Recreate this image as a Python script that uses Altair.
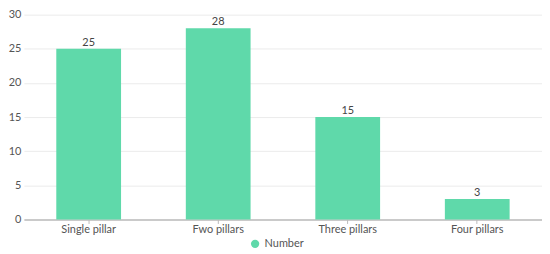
import altair as alt
import pandas as pd

categories = ["Single pillar", "Fwo pillars", "Three pillars", "Four pillars"]
values = [25, 28, 15, 3]
series = ["Number"] * 4

df = pd.DataFrame({"category": categories, "value": values, "series": series})

font = "Lato"
base = alt.Chart(df).encode(
    x=alt.X("category:N", sort=categories, title=None,
            scale=alt.Scale(paddingInner=0.5, paddingOuter=0.25),
            axis=alt.Axis(labelAngle=0, labelFontSize=11, labelColor="#555", labelFont=font,
                          domainColor="#bbb", domainWidth=1.5, tickColor="#bbb", tickSize=4,
                          labelPadding=0)),
    y=alt.Y("value:Q", title=None, scale=alt.Scale(domain=[0, 30]),
            axis=alt.Axis(values=[0, 5, 10, 15, 20, 25, 30], labelFontSize=11, labelColor="#555",
                          labelFont=font, domain=False, ticks=False, gridColor="#ebebeb",
                          labelPadding=3)),
)

bars = base.mark_bar(color="#5fd9aa").encode(
    color=alt.Color("series:N", scale=alt.Scale(range=["#5fd9aa"]), title=None,
                    legend=alt.Legend(orient="none", legendX=227, legendY=225,
                                      symbolType="circle", symbolSize=70,
                                      labelFontSize=11, labelColor="#555", labelFont=font))
)
text = base.mark_text(dy=-6, fontSize=11, color="#444", font=font).encode(text="value:Q")

chart = (bars + text).properties(
    width=521, height=206,
    padding={"left": 0, "top": 0, "right": 0, "bottom": 0},
).configure_view(stroke=None)

chart.save("out.html", embed_options={"renderer": "svg", "actions": False})
